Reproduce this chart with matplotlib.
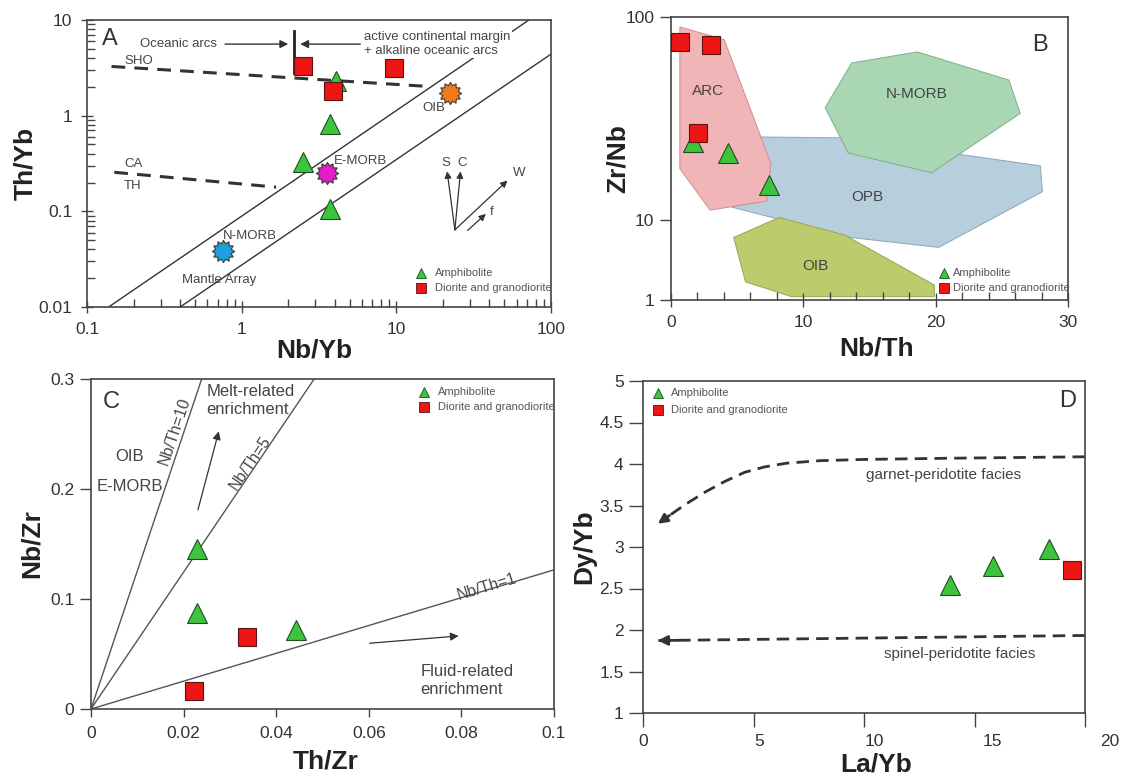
"""Four-panel trace-element discrimination diagrams (A-D)."""

import numpy as np
import matplotlib

matplotlib.use("Agg")
import matplotlib.pyplot as plt
import matplotlib.transforms as mtransforms
from matplotlib.patches import Polygon
from matplotlib.path import Path
from matplotlib.ticker import (FixedLocator, FuncFormatter, LogLocator,
                               MultipleLocator, NullFormatter, NullLocator)

plt.rcParams["font.family"] = ["Liberation Sans", "DejaVu Sans"]

# ---- A: Nb/Yb vs Th/Yb ----
a_amph_nbyb = [4.1, 3.7, 2.5, 3.7]
a_amph_thyb = [2.32, 0.82, 0.326, 0.106]
a_dio_nbyb = [2.5, 9.6, 3.88]
a_dio_thyb = [3.33, 3.12, 1.82]
a_ref_names = ["N-MORB", "E-MORB", "OIB"]
a_ref_nbyb = [0.756, 3.54, 22.2]
a_ref_thyb = [0.0383, 0.25, 1.72]
a_ref_colors = ["#1e9fe0", "#e01fc4", "#f07a1a"]
a_upper_x, a_upper_y = [0.138, 72.0], [0.01, 10.0]
a_lower_x, a_lower_y = [0.40, 100.0], [0.01, 4.4]
a_sho_x, a_sho_y = [0.144, 16.9], [3.27, 2.01]
a_ca_x, a_ca_y = [0.150, 1.67], [0.256, 0.179]

# ---- B: Nb/Th vs Zr/Nb ----
b_amph_nbth = [1.66, 4.34, 7.37]
b_amph_zrnb = [24.3, 21.3, 14.9]
b_dio_nbth = [0.67, 3.0, 2.01]
b_dio_zrnb = [75.3, 73.1, 26.7]
b_arc_x = [0.67, 4.02, 7.55, 7.23, 2.95, 0.67]
b_arc_y = [89.3, 77.4, 19.0, 12.4, 11.2, 17.9]
b_opb_x = [4.55, 5.76, 12.99, 27.91, 28.07, 20.22, 13.53]
b_opb_y = [11.6, 25.7, 25.4, 18.5, 13.8, 4.55, 6.07]
b_nmorb_x = [11.65, 13.66, 18.62, 25.53, 26.39, 19.69, 13.39]
b_nmorb_y = [35.8, 59.4, 67.3, 48.9, 33.5, 17.1, 21.4]
b_oib_x = [4.74, 8.17, 13.13, 19.90, 19.90, 9.11, 5.63]
b_oib_y = [6.07, 10.3, 6.49, 1.54, 1.10, 1.10, 1.69]

# ---- C: Th/Zr vs Nb/Zr ----
c_amph_thzr = [0.0228, 0.0228, 0.0443]
c_amph_nbzr = [0.1453, 0.0870, 0.0719]
c_dio_thzr = [0.0337, 0.0223]
c_dio_nbzr = [0.0658, 0.0167]
c_ratio_labels = ["Nb/Th=10", "Nb/Th=5", "Nb/Th=1"]
c_ratio_end_x = [0.0239, 0.0482, 0.1]
c_ratio_end_y = [0.3, 0.3, 0.1265]

# ---- D: La/Yb vs Dy/Yb ----
d_amph_layb = [13.9, 15.83, 18.37]
d_amph_dyyb = [2.54, 2.77, 2.98]
d_dio_layb = [19.41]
d_dio_dyyb = [2.72]
d_garnet_x = [20.0, 14.0, 10.0, 8.0, 6.5, 5.5, 4.6, 3.7, 2.8, 1.9, 1.2, 0.67]
d_garnet_y = [4.087, 4.07, 4.055, 4.04, 4.01, 3.965, 3.90, 3.79, 3.66, 3.51, 3.38, 3.28]
d_spinel_x = [20.0, 0.67]
d_spinel_y = [1.934, 1.873]
d_xticks = [0, 5, 10, 15, 20]

INK = "#333333"
TXT = "#444444"
AMPH = dict(marker="^", ms=15, mfc="#3cc43c", mec="#1f4f1f", mew=0.8, ls="none", zorder=6)
DIO = dict(marker="s", ms=13, mfc="#ee1515", mec="#5a1212", mew=0.8, ls="none", zorder=6)
SUN = Path.unit_regular_star(12, 0.72)
LABEL_FONT = dict(fontsize=19, fontweight="bold", color="#222222")

fig = plt.figure(figsize=(11.25, 7.78), dpi=100)
W, H = 1125.0, 778.0


def panel(x0, y0, x1, y1):
    return fig.add_axes([x0 / W, 1 - y1 / H, (x1 - x0) / W, (y1 - y0) / H])


def frame(ax):
    for s in ax.spines.values():
        s.set_color("#444444")
        s.set_linewidth(1.2)
    ax.tick_params(which="both", colors="#444444", labelcolor="#333333",
                   labelsize=12.5, width=1.0)


def labels(ax, xl, yl, xpos, ypos):
    ax.set_xlabel(xl, **LABEL_FONT)
    ax.set_ylabel(yl, **LABEL_FONT)
    ax.xaxis.label.set_va("center")
    ax.yaxis.label.set_va("center")
    ax.xaxis.set_label_coords(*xpos)
    ax.yaxis.set_label_coords(*ypos)


def legend(ax, x, y_tri, y_sq, dx=0.03):
    ax.plot([x], [y_tri], transform=ax.transAxes, marker="^", ms=7, mfc="#3cc43c",
            mec="#1f4f1f", mew=0.6, ls="none", zorder=7)
    ax.plot([x], [y_sq], transform=ax.transAxes, marker="s", ms=7, mfc="#ee1515",
            mec="#5a1212", mew=0.6, ls="none", zorder=7)
    ax.text(x + dx, y_tri, "Amphibolite", transform=ax.transAxes, fontsize=8,
            color="#555555", va="center")
    ax.text(x + dx, y_sq, "Diorite and granodiorite", transform=ax.transAxes,
            fontsize=8, color="#555555", va="center")


def arrow(ax, start, end, lw=1.0, ms=12):
    ax.annotate("", xy=end, xytext=start,
                arrowprops=dict(arrowstyle="-|>", color=INK, lw=lw,
                                mutation_scale=ms, shrinkA=0, shrinkB=0))


# ================= A =================
ax = panel(87, 20, 551, 307)
frame(ax)
ax.set_xscale("log")
ax.set_yscale("log")
ax.set_xlim(0.1, 100)
ax.set_ylim(0.01, 10)
fmt = FuncFormatter(lambda v, p: f"{v:g}")
ax.xaxis.set_major_formatter(fmt)
ax.yaxis.set_major_formatter(fmt)
ax.xaxis.set_minor_locator(LogLocator(subs=np.arange(2, 10)))
ax.yaxis.set_minor_locator(LogLocator(subs=np.arange(2, 10)))
ax.xaxis.set_minor_formatter(NullFormatter())
ax.yaxis.set_minor_formatter(NullFormatter())
ax.tick_params(which="major", direction="inout", length=9, pad=6)
ax.tick_params(which="minor", direction="in", length=6)

ax.plot(a_upper_x, a_upper_y, color=INK, lw=1.0, zorder=2)
ax.plot(a_lower_x, a_lower_y, color=INK, lw=1.0, zorder=2)
ax.plot(a_sho_x, a_sho_y, color=INK, lw=2.2, dashes=(4.5, 3), zorder=2)
ax.plot(a_ca_x, a_ca_y, color=INK, lw=2.2, dashes=(4.5, 3), zorder=2)
ax.plot([2.19, 2.19], [2.79, 7.66], color="#222222", lw=2.0, zorder=3)
arrow(ax, (0.78, 5.6), (2.0, 5.6))
arrow(ax, (5.85, 5.6), (2.39, 5.6))
ax.text(0.388, 5.55, "Oceanic arcs", fontsize=9.5, color=TXT, ha="center", va="center")
ax.text(6.2, 5.6, "active continental margin\n+ alkaline oceanic arcs", fontsize=9.5,
        color=TXT, ha="left", va="center", linespacing=1.15, zorder=5,
        bbox=dict(fc="white", ec="none", pad=1.0))
ax.text(0.174, 3.75, "SHO", fontsize=9.5, color=TXT, va="center")
ax.text(0.174, 0.313, "CA", fontsize=9.5, color=TXT, va="center")
ax.text(0.174, 0.186, "TH", fontsize=9.5, color=TXT, va="center")
ax.text(0.752, 0.0558, "N-MORB", fontsize=9.5, color=TXT, va="center")
ax.text(3.95, 0.339, "E-MORB", fontsize=9.5, color=TXT, va="center")
ax.text(14.8, 1.20, "OIB", fontsize=9.5, color=TXT, va="center")
ax.text(0.411, 0.0192, "Mantle Array", fontsize=9.5, color=TXT, va="center")

# S, C, W, f vectors
origin = (23.9, 0.064)
arrow(ax, origin, (21.3, 0.262), lw=0.9, ms=10)
arrow(ax, origin, (26.0, 0.262), lw=0.9, ms=10)
arrow(ax, origin, (52.3, 0.21), lw=0.9, ms=10)
arrow(ax, (28.9, 0.0631), (37.9, 0.094), lw=0.9, ms=10)
ax.text(20.8, 0.318, "S", fontsize=9.5, color=TXT, ha="center", va="center")
ax.text(26.6, 0.318, "C", fontsize=9.5, color=TXT, ha="center", va="center")
ax.text(56.7, 0.25, "W", fontsize=9.5, color=TXT, ha="left", va="center")
ax.text(40, 0.098, "f", fontsize=9.5, color=TXT, ha="left", va="center")

for x, y, c in zip(a_ref_nbyb, a_ref_thyb, a_ref_colors):
    ax.plot([x], [y], marker=SUN, ms=16, mfc=c, mec="#3a3a3a", mew=0.8, ls="none", zorder=5)
    ax.plot([x], [y], marker="o", ms=8, mfc=c, mec="none", ls="none", zorder=5)
ax.plot(a_amph_nbyb, a_amph_thyb, **AMPH)
ax.plot(a_dio_nbyb, a_dio_thyb, **DIO)
legend(ax, 0.719, 0.118, 0.066)
ax.text(0.032, 0.934, "A", transform=ax.transAxes, fontsize=17, color=INK, va="center")
labels(ax, "Nb/Yb", "Th/Yb", (0.489, -0.15), (-0.134, 0.5))

# ================= B =================
STRETCH = 80 / 203.3


def _fwd(y):
    ly = np.log10(np.clip(y, 1e-6, None))
    return np.where(ly >= 1, ly, 1 - (1 - ly) * STRETCH)


def _inv(v):
    v = np.asarray(v, dtype=float)
    return np.where(v >= 1, 10 ** v, 10 ** (1 - (1 - v) / STRETCH))


ax = panel(671, 17, 1068, 300)
frame(ax)
ax.set_yscale("function", functions=(_fwd, _inv))
ax.set_xlim(0, 30)
ax.set_ylim(1, 100)
ax.yaxis.set_major_locator(FixedLocator([1, 10, 100]))
ax.yaxis.set_major_formatter(fmt)
ax.yaxis.set_minor_locator(NullLocator())
ax.xaxis.set_major_locator(MultipleLocator(10))
ax.xaxis.set_minor_locator(MultipleLocator(2))
ax.tick_params(axis="y", which="major", direction="out", length=8, pad=4)
ax.tick_params(axis="x", which="major", direction="inout", length=10, pad=6)
ax.tick_params(axis="x", which="minor", direction="in", length=6)

fields = [
    (b_opb_x, b_opb_y, "#b7cfdd", "#8aa6b8"),
    (b_nmorb_x, b_nmorb_y, "#a9d6b3", "#7fae8a"),
    (b_arc_x, b_arc_y, "#f2b5b7", "#d08d90"),
    (b_oib_x, b_oib_y, "#bccb6c", "#98a650"),
]
for fx, fy, fc, ec in fields:
    ax.add_patch(Polygon(np.column_stack([fx, fy]), closed=True, fc=fc, ec=ec,
                         lw=0.7, zorder=1))
ax.text(2.81, 43.3, "ARC", fontsize=11, color=TXT, ha="center", va="center", zorder=3)
ax.text(18.56, 42.0, "N-MORB", fontsize=11, color=TXT, ha="center", va="center", zorder=3)
ax.text(14.81, 13.0, "OPB", fontsize=11, color=TXT, ha="center", va="center", zorder=3)
ax.text(10.90, 2.69, "OIB", fontsize=11, color=TXT, ha="center", va="center", zorder=3)
ax.plot(b_amph_nbth, b_amph_zrnb, **AMPH)
ax.plot(b_dio_nbth, b_dio_zrnb, **DIO)
legend(ax, 0.688, 0.096, 0.041, dx=0.022)
ax.text(0.93, 0.90, "B", transform=ax.transAxes, fontsize=17, color=INK,
        ha="center", va="center")
labels(ax, "Nb/Th", "Zr/Nb", (0.518, -0.17), (-0.134, 0.5))

# ================= C =================
ax = panel(91, 379, 554, 709)
frame(ax)
ax.set_xlim(0, 0.1)
ax.set_ylim(0, 0.3)
ax.xaxis.set_major_locator(MultipleLocator(0.02))
ax.yaxis.set_major_locator(MultipleLocator(0.1))
ax.xaxis.set_major_formatter(fmt)
ax.yaxis.set_major_formatter(fmt)
ax.tick_params(axis="y", direction="out", length=8, pad=4)
ax.tick_params(axis="x", direction="out", length=6, pad=6)

for lab, ex, ey in zip(c_ratio_labels, c_ratio_end_x, c_ratio_end_y):
    ax.plot([0, ex], [0, ey], color="#555555", lw=1.0, zorder=2)
label_pos = [(0.0181, 0.2524), (0.0344, 0.2235), (0.0856, 0.1113)]
for lab, ex, ey, (tx, ty) in zip(c_ratio_labels, c_ratio_end_x, c_ratio_end_y, label_pos):
    p0 = ax.transData.transform((0, 0))
    p1 = ax.transData.transform((ex, ey))
    ang = np.degrees(np.arctan2(p1[1] - p0[1], p1[0] - p0[0]))
    ax.text(tx, ty, lab, fontsize=11.5, color=TXT, rotation=ang,
            rotation_mode="anchor", ha="center", va="center")
ax.text(0.0249, 0.2888, "Melt-related", fontsize=12, color=TXT, va="center")
ax.text(0.0249, 0.2721, "enrichment", fontsize=12, color=TXT, va="center")
ax.text(0.0084, 0.2296, "OIB", fontsize=12, color=TXT, ha="center", va="center")
ax.text(0.0084, 0.2023, "E-MORB", fontsize=12, color=TXT, ha="center", va="center")
ax.text(0.0711, 0.0340, "Fluid-related", fontsize=12, color=TXT, va="center")
ax.text(0.0711, 0.0173, "enrichment", fontsize=12, color=TXT, va="center")
arrow(ax, (0.0231, 0.1811), (0.0276, 0.2524), lw=0.9, ms=12)
arrow(ax, (0.0602, 0.0598), (0.0794, 0.0664), lw=0.9, ms=12)
ax.plot(c_amph_thzr, c_amph_nbzr, **AMPH)
ax.plot(c_dio_thzr, c_dio_nbzr, **DIO)
legend(ax, 0.719, 0.961, 0.914)
ax.text(0.025, 0.93, "C", transform=ax.transAxes, fontsize=17, color=INK, va="center")
labels(ax, "Th/Zr", "Nb/Zr", (0.507, -0.16), (-0.127, 0.5))

# ================= D =================
ax = panel(643, 381, 1085, 713)
frame(ax)
ax.set_xlim(0, 20)
ax.set_ylim(1, 5)
ax.set_xticks(d_xticks)
ax.set_xticklabels([])
ax.yaxis.set_major_locator(MultipleLocator(0.5))
ax.yaxis.set_major_formatter(fmt)
ax.tick_params(axis="both", direction="out", length=10, pad=4)
# tick numbers sit a little right of their ticks, drifting further along the axis
shift = [0, 0.25, 0.48, 0.79, 1.11]
xt = mtransforms.blended_transform_factory(ax.transData, ax.transAxes)
for v, s in zip(d_xticks, shift):
    ax.text(v + s, -0.064, f"{v:g}", transform=xt, fontsize=12.5, color="#333333",
            ha="center", va="top", clip_on=False)

ax.plot(d_garnet_x[:-1], d_garnet_y[:-1], color=INK, lw=2.0, dashes=(4.5, 2.6), zorder=2)
arrow(ax, (d_garnet_x[-2], d_garnet_y[-2]), (d_garnet_x[-1], d_garnet_y[-1]), lw=2.0, ms=14)
ax.plot(d_spinel_x, d_spinel_y, color=INK, lw=2.0, dashes=(4.5, 2.6), zorder=2)
arrow(ax, (1.6, 1.876), (d_spinel_x[-1], d_spinel_y[-1]), lw=2.0, ms=14)
ax.text(10.1, 3.865, "garnet-peridotite facies", fontsize=11, color=TXT, va="center")
ax.text(10.9, 1.71, "spinel-peridotite facies", fontsize=11, color=TXT, va="center")
ax.plot(d_amph_layb, d_amph_dyyb, **AMPH)
ax.plot(d_dio_layb, d_dio_dyyb, **DIO)
legend(ax, 0.033, 0.963, 0.914)
ax.text(0.96, 0.94, "D", transform=ax.transAxes, fontsize=17, color=INK,
        ha="center", va="center")
labels(ax, "La/Yb", "Dy/Yb", (0.528, -0.155), (-0.133, 0.5))

fig.savefig("out.png", dpi=100)
